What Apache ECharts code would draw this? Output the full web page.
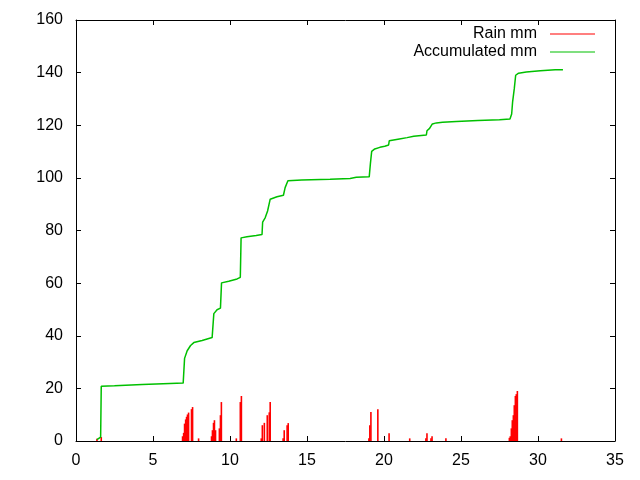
<!DOCTYPE html>
<html>
<head>
<meta charset="utf-8">
<title>Rain</title>
<script src="https://cdn.jsdelivr.net/npm/echarts@6/dist/echarts.min.js"></script>
<style>
	html, body { margin: 0; padding: 0; background: #fff; }
	#chart { width: 640px; height: 480px; }
</style>
</head>
<body>
<div id="chart"></div>
<script>
//降雨量（脉冲）
var rainX = [1.36, 1.64,
	6.92, 6.99, 7.05, 7.12, 7.18, 7.24, 7.31, 7.5, 7.57, 7.96,
	8.8, 8.86, 8.93, 8.99, 9.06, 9.31, 9.38, 9.44, 10.41, 10.67, 10.74,
	12.03, 12.1, 12.23, 12.42, 12.55, 12.61, 13.45, 13.52, 13.71, 13.78,
	19.02, 19.08, 19.15, 19.6, 20.33, 21.67, 22.72, 22.79, 23.05, 23.12, 24.02,
	28.14, 28.2, 28.27, 28.33, 28.4, 28.46, 28.53, 28.59, 28.66, 31.52];
var rainMm = [0.9, 1.5,
	1.8, 3.1, 6.6, 8.2, 9.2, 10.1, 10.8, 12.1, 12.9, 1.0,
	1.8, 4.1, 6.9, 7.9, 4.1, 4.8, 9.8, 14.8, 1.0, 14.8, 17.1,
	1.0, 6.0, 6.9, 9.8, 10.9, 14.8, 1.0, 4.1, 6.0, 6.8,
	1.0, 6.0, 11.0, 12.1, 2.9, 1.0, 1.0, 2.9, 1.0, 1.8, 1.0,
	1.2, 1.8, 4.8, 7.9, 9.8, 13.6, 17.1, 17.8, 19.0, 1.0];

//累计雨量
var accX = [1.36, 1.45, 1.6, 1.64, 2.5, 4.3, 6.1, 6.96, 7.05, 7.22, 7.44, 7.65, 8.19, 8.84,
	8.95, 9.16, 9.38, 9.45, 9.92, 10.46, 10.67, 10.72, 11.1, 11.7, 12.08, 12.12, 12.29,
	12.44, 12.61, 13.05, 13.47, 13.58, 13.76, 14.66, 16.5, 17.8, 18.2, 19.04, 19.12,
	19.2, 19.4, 19.73, 20.05, 20.3, 20.34, 21.0, 21.5, 21.93, 22.75, 22.79, 22.96,
	23.14, 23.4, 23.8, 24.7, 26.1, 27.5, 28.18, 28.29, 28.35, 28.46, 28.55, 28.74,
	29.24, 30.15, 31.12, 31.62];
var accMm = [0.5, 1.0, 1.5, 20.8, 21.0, 21.5, 21.9, 22.0, 31.4, 34.3, 36.3, 37.4, 38.2, 39.3,
	48.4, 49.9, 50.5, 60.1, 60.7, 61.6, 62.2, 77.2, 77.6, 78.1, 78.5, 83.2, 84.9,
	87.4, 91.9, 92.8, 93.4, 96.3, 98.9, 99.2, 99.5, 99.8, 100.2, 100.4, 105.6,
	110.1, 111.0, 111.6, 112.0, 112.5, 114.1, 114.8, 115.3, 115.8, 116.3, 117.9, 118.8,
	120.5, 120.9, 121.1, 121.4, 121.8, 122.1, 122.4, 124.3, 128.8, 133.9, 139.0, 139.8,
	140.2, 140.7, 141.1, 141.1];

var xTicks = [0, 35, 5];
var yTicks = [0, 160, 20];

function zip(xs, ys) {
	var out = [];
	for (var i = 0; i < xs.length; i++) {
		out.push([xs[i], ys[i]]);
	}
	return out;
}

function chart() {
	var myChart = echarts.init(document.getElementById('chart'));
	var font = 'Liberation Sans, Arial, sans-serif';
	var axisLine = { show: true, onZero: false, lineStyle: { color: '#000', width: 1 } };
	var tick = { show: true, inside: true, length: 5, lineStyle: { color: '#000' } };
	var legendText = { fontFamily: font, fontSize: 16, color: '#000', padding: [0, 8, 0, 0] };
	var option = {
		animation: false,
		backgroundColor: '#fff',
		grid: { left: 76, right: 25, top: 20, bottom: 39 },
		legend: [{
			right: 40, top: 21, align: 'right',
			itemWidth: 45, itemHeight: 1, itemGap: 0,
			textStyle: legendText,
			data: [{ name: 'Rain mm', icon: 'rect' }]
		}, {
			right: 40, top: 39, align: 'right',
			itemWidth: 45, itemHeight: 1, itemGap: 0,
			textStyle: legendText,
			data: [{ name: 'Accumulated mm', icon: 'rect' }]
		}],
		xAxis: [{
			type: 'value', min: xTicks[0], max: xTicks[1], interval: xTicks[2],
			axisLine: axisLine, axisTick: tick, splitLine: { show: false },
			axisLabel: { fontFamily: font, fontSize: 16, color: '#000', margin: 12 }
		}, {
			type: 'value', position: 'top', min: xTicks[0], max: xTicks[1], interval: xTicks[2],
			axisLine: axisLine, axisTick: tick, splitLine: { show: false },
			axisLabel: { show: false }
		}],
		yAxis: [{
			type: 'value', min: yTicks[0], max: yTicks[1], interval: yTicks[2],
			axisLine: axisLine, axisTick: tick, splitLine: { show: false },
			axisLabel: { fontFamily: font, fontSize: 16, color: '#000', margin: 13 }
		}, {
			type: 'value', position: 'right', min: yTicks[0], max: yTicks[1], interval: yTicks[2],
			axisLine: axisLine, axisTick: tick, splitLine: { show: false },
			axisLabel: { show: false }
		}],
		series: [{
			name: 'Rain mm',
			type: 'bar',
			xAxisIndex: 0, yAxisIndex: 0,
			barWidth: 1.6,
			itemStyle: { color: '#ff0000' },
			data: zip(rainX, rainMm)
		}, {
			name: 'Accumulated mm',
			type: 'line',
			xAxisIndex: 0, yAxisIndex: 0,
			showSymbol: false,
			itemStyle: { color: '#00c000' },
			lineStyle: { color: '#00c000', width: 1.5 },
			data: zip(accX, accMm)
		}]
	};
	myChart.setOption(option);
}
chart();
</script>
</body>
</html>
